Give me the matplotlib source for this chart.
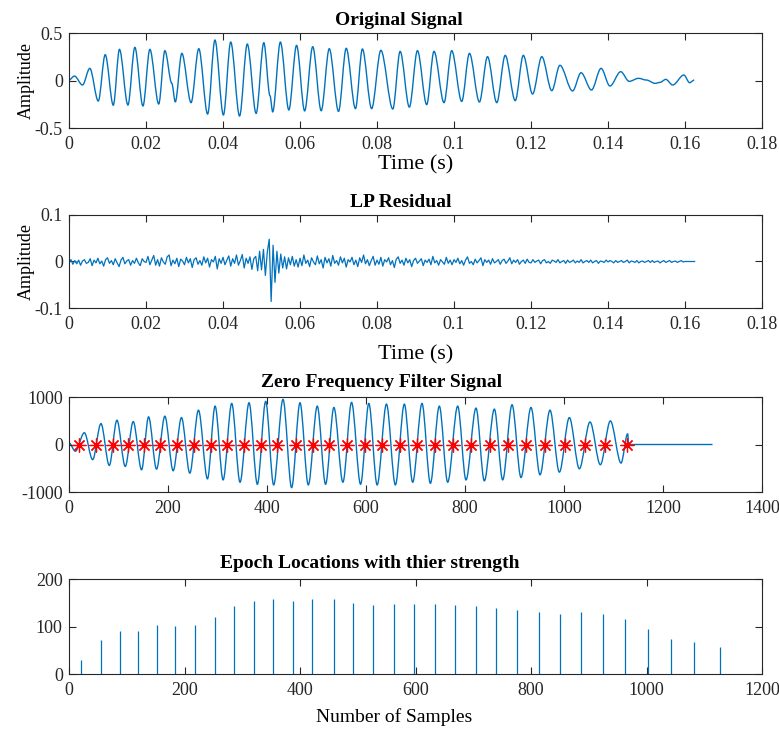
import numpy as np
import matplotlib
matplotlib.use('Agg')
import matplotlib.pyplot as plt
from matplotlib.path import Path
from matplotlib.patches import PathPatch

plt.rcParams['font.family'] = ['Liberation Serif', 'DejaVu Serif']
plt.rcParams['axes.unicode_minus'] = False

BLUE = '#0072BD'
DARK = '#262626'

# original speech segment: turning points (time in s, amplitude)
orig_t = [0.0000, 0.0014, 0.0035, 0.0054, 0.0076, 0.0094, 0.0115, 0.0131, 0.0153, 0.0171,
          0.0192, 0.0210, 0.0233, 0.0249, 0.0267, 0.0276, 0.0293, 0.0317, 0.0337, 0.0360,
          0.0379, 0.0401, 0.0420, 0.0443, 0.0463, 0.0486, 0.0506, 0.0522, 0.0529, 0.0549,
          0.0571, 0.0591, 0.0612, 0.0633, 0.0655, 0.0676, 0.0700, 0.0720, 0.0744, 0.0762,
          0.0786, 0.0810, 0.0841, 0.0860, 0.0884, 0.0905, 0.0929, 0.0948, 0.0974, 0.0994,
          0.1020, 0.1040, 0.1066, 0.1087, 0.1111, 0.1133, 0.1159, 0.1180, 0.1204, 0.1228,
          0.1254, 0.1275, 0.1308, 0.1330, 0.1357, 0.1382, 0.1405, 0.1433, 0.1455, 0.1479,
          0.1500, 0.1522, 0.1535, 0.1550, 0.1568, 0.1597, 0.1612, 0.1624]
orig_amp = [0.005, 0.047, -0.047, 0.128, -0.216, 0.272, -0.260, 0.328, -0.258, 0.349,
            -0.268, 0.328, -0.247, 0.314, -0.030, -0.226, 0.286, -0.233, 0.335, -0.353,
            0.426, -0.363, 0.405, -0.374, 0.384, -0.346, 0.398, -0.160, -0.330, 0.405,
            -0.310, 0.370, -0.320, 0.356, -0.318, 0.335, -0.325, 0.339, -0.296, 0.332,
            -0.296, 0.318, -0.300, 0.307, -0.280, 0.314, -0.254, 0.307, -0.233, 0.314,
            -0.220, 0.286, -0.226, 0.251, -0.233, 0.265, -0.212, 0.265, -0.142, 0.251,
            -0.107, 0.160, -0.110, 0.082, -0.100, 0.128, -0.058, 0.093, -0.009, 0.023,
            0.005, -0.030, -0.020, 0.012, -0.047, 0.058, -0.023, 0.005]

# LP residual, one value every 0.5 ms (units of 1e-3)
lp_step = 0.0005
lp_res = [-3, 4, -6, 2, -5, 3, -8, 1, 4, -4, -2, 6, -9, 3, -3, 7, -5, 1, -10, 4,
          8, -4, 2, -7, 6, -3, -11, 3, 9, -5, 1, 4, -8, 2, -4, 7, -3, -9, 6, 0,
          -2, 11, -7, 3, 13, -8, 4, -10, 8, -1, -6, 10, 14, -9, 3, -5, 7, -11, 5, 1,
          -7, 9, -3, 6, -13, 4, 8, -6, 2, -8, 10, -3, 7, -12, 4, -1, 11, -16, 6, -4,
          9, -7, 3, 12, -10, 6, -4, 14, -8, 2, 15, -14, 7, -4, 10, -17, 6, 11, -20, 22,
          -18, 26, -30, 20, 48, -86, 35, -45, 22, -25, 16, -14, 10, -16, 8, -7, 11, -10, 4, -12,
          7, -9, 14, -4, 3, -11, 8, -1, -7, 12, -5, 4, -14, 9, -3, 6, -10, 13, -4, 2,
          -8, 10, -3, 7, -12, 4, -1, 9, -7, 3, -11, 8, -2, 14, -5, 4, -9, 2, 11, -8,
          3, -6, 9, -10, 4, -1, 8, -7, 2, -13, 5, 10, -4, 3, -8, 7, -3, 4, -11, 2,
          7, -4, 1, 6, -9, 3, -2, 5, -7, 11, -3, 2, -8, 4, -1, -6, 9, -4, 3, -7,
          4, -2, 7, -5, 2, -8, 3, 10, -4, 0, -7, 5, -3, 2, 8, -9, 4, -2, 3, -6,
          6, -3, 0, 4, -6, 2, 5, -4, 1, 8, -5, 3, -2, 4, -6, 0, 3, -4, 5, -2,
          -3, 4, -2, 1, 3, -5, 2, 4, -3, 0, -4, 3, 1, -2, 4, -3, 0, 2, -4, 3,
          -2, 0, 3, -3, 1, -2, 4, -3, 0, 2, -2, 3, -3, 0, 2, -4, 1, 0, -2, 3,
          -1, 2, 0, -3, 2, -2, 0, 2, -2, 0, 3, -3, 1, 0, -2, 2, -3, 0, 1, -2,
          0, 2, -2, 2, -2, 0, 1, -3, 0, 2, -2, 0, 2, -2, 0, 1, -2, 0, 2, -1,
          0, 0, 0, 0, 0, 0]

# zero frequency filtered signal: turning points (sample, value)
zff_n = [0, 12.8, 31, 47.7, 64.5, 81.3, 96.8, 113.6, 129.7, 146.6, 160.7, 176.8, 193.6,
         210.4, 227.2, 244, 261.5, 279.7, 295.1, 311.3, 328.7, 345.5, 363.7, 380.5, 397.3,
         413.4, 432.3, 449.7, 466.6, 483.4, 501.5, 518.3, 535.1, 553.3, 570.8, 589, 605.7,
         622.5, 641.3, 659.3, 677.4, 694.3, 713.1, 730, 748.1, 765, 785.2, 802, 822.2, 839,
         859.3, 876.1, 895, 913.1, 933.3, 951.5, 971.7, 990.6, 1010.8, 1031, 1052.5, 1073.4,
         1093.6, 1115.2, 1128.6, 1130.6, 1300]
zff_val = [35, -142, 248, -319, 440, -440, 511, -461, 482, -532, 582, -518, 596,
           -553, 567, -603, 723, -723, 808, -745, 865, -794, 879, -837, 908,
           -851, 950, -908, 879, -851, 808, -837, 780, -794, 887, -837, 865,
           -851, 851, -851, 851, -794, 865, -816, 808, -794, 808, -745, 766, -766,
           745, -745, 837, -695, 780, -638, 723, -582, 567, -511, 475, -426,
           496, -390, 227, 0, 0]

# epoch locations (sample) and strength
epoch_n = [20, 55, 89, 120, 152, 184, 218, 252, 286, 320, 354, 388, 421, 458, 492, 526,
           562, 597, 633, 669, 704, 740, 776, 813, 850, 886, 924, 962, 1002, 1043, 1083, 1127]
epoch_str = [30, 71, 91, 91, 104, 102, 104, 120, 144, 154, 158, 154, 158, 157, 150, 146,
             148, 148, 148, 146, 143, 140, 134, 130, 126, 131, 127, 115, 95, 74, 68, 57]

time_ticks = ['0', '0.02', '0.04', '0.06', '0.08', '0.1', '0.12', '0.14', '0.16', '0.18']


def smooth_line(ax, xs, ys, lw=1.0):
    # smooth curve through the turning points (horizontal tangent at each one)
    verts = [(xs[0], ys[0])]
    codes = [Path.MOVETO]
    for i in range(len(xs) - 1):
        d = (xs[i + 1] - xs[i]) / 3.0
        verts += [(xs[i] + d, ys[i]), (xs[i + 1] - d, ys[i + 1]), (xs[i + 1], ys[i + 1])]
        codes += [Path.CURVE4] * 3
    ax.add_patch(PathPatch(Path(verts, codes), fill=False, edgecolor=BLUE, lw=lw))


def style(ax):
    ax.tick_params(direction='in', top=True, right=True, length=5, width=0.8,
                   colors=DARK, labelsize=13)
    ax.tick_params(axis='x', pad=5.5)
    ax.tick_params(axis='y', pad=4.5)
    for s in ax.spines.values():
        s.set_color(DARK)
        s.set_linewidth(0.8)


fig = plt.figure(figsize=(7.79, 7.29), dpi=100)
left, width = 0.0886, 0.8896

# 1 - original signal
ax1 = fig.add_axes([left, 0.8244, width, 0.1303])
smooth_line(ax1, orig_t, orig_amp)
ax1.set_xlim(0, 0.18)
ax1.set_ylim(-0.5, 0.5)
ax1.set_xticks(np.arange(0, 0.181, 0.02))
ax1.set_xticklabels(time_ticks)
ax1.set_yticks([-0.5, 0, 0.5])
ax1.set_yticklabels(['-0.5', '0', '0.5'])
ax1.set_title('Original Signal', fontsize=14, fontweight='bold', x=0.4755, pad=6)
ax1.set_xlabel('Time (s)', fontsize=16, labelpad=2)
ax1.set_ylabel('Amplitude', fontsize=13, labelpad=0)
style(ax1)

# 2 - LP residual
ax2 = fig.add_axes([left, 0.5775, width, 0.1276])
lp_t = np.arange(len(lp_res)) * lp_step
ax2.plot(lp_t, np.array(lp_res) / 1000.0, color=BLUE, lw=0.9)
ax2.set_xlim(0, 0.18)
ax2.set_ylim(-0.1, 0.1)
ax2.set_xticks(np.arange(0, 0.181, 0.02))
ax2.set_xticklabels(time_ticks)
ax2.set_yticks([-0.1, 0, 0.1])
ax2.set_yticklabels(['-0.1', '0', '0.1'])
ax2.set_title('LP Residual', fontsize=14, fontweight='bold', x=0.479, pad=6)
ax2.set_xlabel('Time (s)', fontsize=16, labelpad=9)
ax2.set_ylabel('Amplitude', fontsize=13, labelpad=0)
style(ax2)

# 3 - zero frequency filter signal with epochs
ax3 = fig.add_axes([left, 0.3251, width, 0.1303])
smooth_line(ax3, zff_n, zff_val)
ax3.plot(epoch_n, np.zeros(len(epoch_n)), linestyle='none', marker=(8, 2, 0),
         markersize=10, markeredgecolor='red', markeredgewidth=0.9)
ax3.set_xlim(0, 1400)
ax3.set_ylim(-1000, 1000)
ax3.set_xticks(np.arange(0, 1401, 200))
ax3.set_yticks([-1000, 0, 1000])
ax3.set_title('Zero Frequency Filter Signal', fontsize=14, fontweight='bold', x=0.4517, pad=7)
style(ax3)

# 4 - epoch strength
ax4 = fig.add_axes([left, 0.0754, width, 0.1303])
ax4.vlines(epoch_n, 0, epoch_str, color=BLUE, lw=0.9)
ax4.set_xlim(0, 1200)
ax4.set_ylim(0, 200)
ax4.set_xticks(np.arange(0, 1201, 200))
ax4.set_yticks([0, 100, 200])
ax4.set_title('Epoch Locations with thier strength', fontsize=14, fontweight='bold',
              x=0.4343, pad=8)
ax4.set_xlabel('Number of Samples', fontsize=14, x=0.469, labelpad=7)
style(ax4)

fig.savefig('out.png', dpi=100)
